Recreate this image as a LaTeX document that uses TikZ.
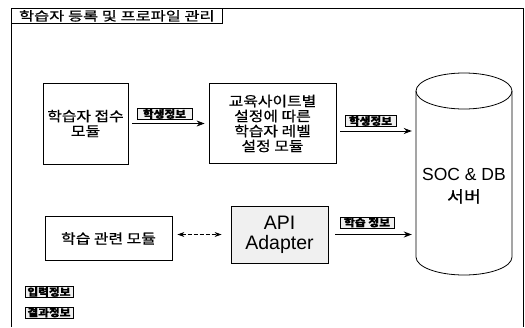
\documentclass[tikz,border=0pt]{standalone}
\usepackage{fontspec}
\setmainfont{Noto Sans CJK KR}[FakeStretch=1.15, FakeBold=0.6]
\newfontfamily\titlekr{Noto Sans CJK KR}[FakeStretch=1.3, FakeBold=0.8]
\newfontfamily\latinsf{Liberation Sans}
\usetikzlibrary{arrows.meta}
\begin{document}
\begin{tikzpicture}[x=1pt,y=-1pt,
  box/.style={draw, line width=0.8pt, align=center, inner sep=0pt, font=\fontsize{13.8}{15}\selectfont},
  tag/.style={draw, line width=1pt, fill=gray!12, inner sep=0.3pt, minimum height=11, font=\bfseries\fontsize{10.2}{10}\selectfont},
  arr/.style={line width=0.9pt, -{Stealth[length=8pt,width=6pt]}},
  darr/.style={line width=0.9pt, dashed, dash pattern=on 4pt off 2pt, {Stealth[length=7pt,width=5pt]}-{Stealth[length=7pt,width=5pt]}},
]
\useasboundingbox (0,0) rectangle (525,327);
\draw[line width=0.8pt] (11,327) -- (11,8) -- (523,8) -- (523,327);
\node[draw, line width=0.8pt, minimum width=211, minimum height=15, inner sep=0pt, anchor=north west, font=\titlekr\fontsize{12.6}{12}\selectfont] (title) at (11,8) {학습자 등록 및 프로파일 관리};

\node[box, minimum width=85, minimum height=81] (recv) at (85.5,123.5) {학습자 접수\\모듈};
\node[box, minimum width=127, minimum height=80] (level) at (272.5,123.5) {교육사이트별\\설정에 따른\\학습자 레벨\\설정 모듈};
\node[box, minimum width=127, minimum height=44] (learn) at (108.5,238.5) {학습 관련 모듈};
\node[box, fill=gray!12, minimum width=97, minimum height=57, font=\latinsf\fontsize{19.5}{20}\selectfont] (api) at (279.5,234.5) {API\\Adapter};

% database cylinder
\node[minimum width=96, minimum height=202, inner sep=0pt] (db) at (464,174) {};
\draw[line width=0.8pt] (464,91) ellipse [x radius=48pt, y radius=18pt];
\draw[line width=0.8pt] (416,91) -- (416,257) arc[start angle=180, end angle=360, x radius=48pt, y radius=18pt] -- (512,91);
\node[align=center, inner sep=0pt, font=\latinsf\fontsize{17.5}{22}\selectfont] (dbtext) at (464,186) {SOC \& DB\\{\rmfamily\fontsize{16}{22}\selectfont 서버}};

\coordinate (row1) at (0,131);

\draw[arr, shorten <=4pt, shorten >=4pt] (recv.east) -- (level.west);
\draw[arr, shorten <=4pt, shorten >=4pt] (level.east |- row1) -- (db.west |- row1);
\draw[arr, shorten <=7pt, shorten >=4pt] (api.east) -- (db.west |- api.east);
\draw[darr, shorten <=5pt, shorten >=9pt] (learn.east |- api.west) -- (api.west);

\node[tag, minimum width=55] (t1) at (164.5,114) {학생정보};
\node[tag, minimum width=51] (t2) at (370.5,121) {학생정보};
\node[tag, minimum width=54] (t3) at (367,222.5) {학습 정보};
\node[tag, minimum width=48] (lg1) at (49,292) {입력정보};
\node[tag, minimum width=48] (lg2) at (49,312.5) {결과정보};
\end{tikzpicture}
\end{document}
